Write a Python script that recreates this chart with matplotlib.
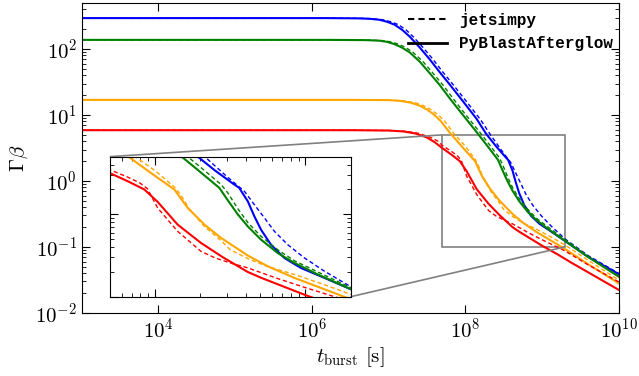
import numpy as np
import matplotlib
matplotlib.use("Agg")
import matplotlib.pyplot as plt
from matplotlib.lines import Line2D
from matplotlib.ticker import LogLocator, NullLocator, NullFormatter
from mpl_toolkits.axes_grid1.inset_locator import mark_inset

plt.rcParams['font.family'] = 'serif'
plt.rcParams['font.serif'] = ['cmr10']
plt.rcParams['mathtext.fontset'] = 'cm'
plt.rcParams['axes.formatter.use_mathtext'] = True
plt.rcParams['axes.unicode_minus'] = False

# values, stored as log10(t) and log10(Gamma*beta)
# PyBlastAfterglow (solid) / jetsimpy (dashed)
lt_blue_pba = [3.0, 6.2, 6.6, 6.75, 6.88, 6.98, 7.08, 7.18, 7.276, 7.407, 7.537, 7.668, 7.8, 7.97,
               8.15, 8.27, 8.40, 8.52, 8.56, 8.617, 8.661, 8.705, 8.771, 8.86, 8.971, 9.104,
               9.303, 9.6, 10.0]
lg_blue_pba = [2.47, 2.47, 2.466, 2.46, 2.445, 2.415, 2.37, 2.29, 2.19, 2.025, 1.845, 1.65, 1.46, 1.21,
               0.94, 0.72, 0.53, 0.37, 0.32, 0.157, -0.026, -0.187, -0.369, -0.53, -0.652, -0.754,
               -0.91, -1.15, -1.41]
lt_blue_jet = [3.0, 6.2, 6.65, 6.8, 6.93, 7.03, 7.13, 7.23, 7.32, 7.45, 7.58, 7.71, 7.85, 8.02,
               8.2, 8.33, 8.484, 8.595, 8.661, 8.728, 8.794, 8.883, 8.994, 9.126, 9.303, 9.6, 10.0]
lg_blue_jet = [2.47, 2.47, 2.466, 2.46, 2.445, 2.415, 2.37, 2.29, 2.19, 2.025, 1.845, 1.65, 1.45, 1.2,
               0.93, 0.70, 0.448, 0.278, 0.116, -0.045, -0.207, -0.37, -0.53, -0.69, -0.88, -1.13, -1.40]

lt_green_pba = [3.0, 6.2, 6.7, 6.88, 6.98, 7.08, 7.18, 7.276, 7.407, 7.537, 7.668, 7.798, 7.971, 8.15,
                8.29, 8.428, 8.484, 8.55, 8.617, 8.705, 8.816, 8.927, 9.082, 9.303, 9.6, 10.0]
lg_green_pba = [2.14, 2.14, 2.136, 2.128, 2.11, 2.075, 2.02, 1.95, 1.81, 1.635, 1.455, 1.253, 1.0, 0.74,
                0.53, 0.32, 0.17, 0.0, -0.147, -0.308, -0.47, -0.59, -0.73, -0.91, -1.15, -1.45]
lt_green_jet = [3.0, 6.2, 6.75, 6.93, 7.03, 7.13, 7.23, 7.32, 7.45, 7.58, 7.71, 7.84, 8.01, 8.19,
                8.33, 8.44, 8.484, 8.55, 8.617, 8.705, 8.816, 8.927, 9.082, 9.303, 9.6, 10.0]
lg_green_jet = [2.14, 2.14, 2.136, 2.128, 2.11, 2.075, 2.02, 1.95, 1.81, 1.635, 1.455, 1.253, 1.0, 0.74,
                0.53, 0.36, 0.26, 0.07, -0.1, -0.268, -0.43, -0.564, -0.70, -0.89, -1.14, -1.44]

lt_orange_pba = [3.0, 6.5, 7.0, 7.15, 7.3, 7.4, 7.5, 7.59, 7.68, 7.808, 7.974, 8.129, 8.218, 8.329,
                 8.44, 8.55, 8.617, 8.75, 8.927, 9.104, 9.3, 9.6, 10.0]
lg_orange_pba = [1.23, 1.23, 1.226, 1.215, 1.185, 1.145, 1.085, 1.01, 0.91, 0.72, 0.50, 0.30, 0.076, -0.126,
                 -0.288, -0.42, -0.50, -0.631, -0.772, -0.894, -1.03, -1.26, -1.55]
lt_orange_jet = [3.0, 6.5, 7.05, 7.2, 7.35, 7.45, 7.55, 7.64, 7.73, 7.852, 8.0, 8.129, 8.17, 8.23,
                 8.33, 8.44, 8.5, 8.62, 8.75, 8.927, 9.104, 9.3, 9.6, 10.0]
lg_orange_jet = [1.23, 1.23, 1.226, 1.215, 1.185, 1.145, 1.085, 1.01, 0.91, 0.72, 0.53, 0.33, 0.24, 0.06,
                 -0.15, -0.32, -0.43, -0.54, -0.635, -0.73, -0.84, -0.97, -1.2, -1.50]

lt_red_pba = [3.0, 6.5, 7.0, 7.2, 7.35, 7.5, 7.6, 7.70, 7.82, 7.93, 8.018, 8.151, 8.306,
              8.45, 8.617, 8.705, 9.0, 9.2, 9.4, 9.7, 10.0]
lg_red_pba = [0.77, 0.77, 0.765, 0.75, 0.72, 0.66, 0.59, 0.50, 0.40, 0.30, 0.15, -0.126, -0.348,
              -0.52, -0.70, -0.77, -0.98, -1.11, -1.25, -1.45, -1.65]
lt_red_jet = [3.0, 6.5, 7.05, 7.25, 7.4, 7.55, 7.65, 7.70, 7.82, 7.90, 7.95, 8.018, 8.151,
              8.306, 8.4, 8.5, 8.617, 8.816, 9.0, 9.3, 9.6, 10.0]
lg_red_jet = [0.77, 0.77, 0.765, 0.75, 0.72, 0.66, 0.60, 0.54, 0.45, 0.38, 0.31, 0.076, -0.207,
              -0.45, -0.53, -0.59, -0.65, -0.78, -0.89, -1.06, -1.27, -1.53]

colors = ['blue', 'green', 'orange', 'red']
pba = [(lt_blue_pba, lg_blue_pba), (lt_green_pba, lg_green_pba),
       (lt_orange_pba, lg_orange_pba), (lt_red_pba, lg_red_pba)]
jet = [(lt_blue_jet, lg_blue_jet), (lt_green_jet, lg_green_jet),
       (lt_orange_jet, lg_orange_jet), (lt_red_jet, lg_red_jet)]

fig = plt.figure(figsize=(6.39, 3.76), dpi=100)
ax = fig.add_axes([0.128, 0.168, 0.840, 0.824])
axins = ax.inset_axes([0.052, 0.052, 0.449, 0.452])


def draw(a):
    for c, (lt, lg), (ltj, lgj) in zip(colors, pba, jet):
        a.plot(10 ** np.array(lt), 10 ** np.array(lg), color=c, ls='-', lw=1.5)
        a.plot(10 ** np.array(ltj), 10 ** np.array(lgj), color=c, ls=(0, (3, 2)), lw=1.0)


draw(ax)
draw(axins)

ax.set_xscale('log')
ax.set_yscale('log')
ax.set_xlim(1e3, 1e10)
ax.set_ylim(1e-2, 5e2)
ax.set_xticks([1e4, 1e6, 1e8, 1e10])
ax.xaxis.set_minor_locator(NullLocator())
ax.yaxis.set_major_locator(LogLocator(base=10, numticks=10))
ax.yaxis.set_minor_locator(LogLocator(base=10, subs=np.arange(2, 10), numticks=20))
ax.yaxis.set_minor_formatter(NullFormatter())
ax.tick_params(which='both', direction='in', top=True, right=True, labelsize=15)
ax.tick_params(which='major', length=6)
ax.tick_params(which='minor', length=3)
ax.set_xlabel(r'$t_{\rm burst}$ $[{\rm s}]$', fontsize=15, labelpad=2)
ax.set_ylabel(r'$\Gamma\beta$', fontsize=15, labelpad=4)

axins.set_xscale('log')
axins.set_yscale('log')
axins.set_xlim(5e7, 2e9)
axins.set_ylim(0.1, 5)
axins.xaxis.set_minor_locator(LogLocator(base=10, subs=np.arange(2, 10), numticks=20))
axins.yaxis.set_minor_locator(LogLocator(base=10, subs=np.arange(2, 10), numticks=20))
axins.xaxis.set_major_formatter(NullFormatter())
axins.xaxis.set_minor_formatter(NullFormatter())
axins.yaxis.set_major_formatter(NullFormatter())
axins.yaxis.set_minor_formatter(NullFormatter())
axins.tick_params(which='both', direction='in', top=True, right=True)
axins.tick_params(which='major', length=6)
axins.tick_params(which='minor', length=3)

mark_inset(ax, axins, loc1=2, loc2=4, fc='none', ec='0.5', lw=1.2)

handles = [Line2D([], [], color='k', ls=(0, (3, 2)), lw=1.5),
           Line2D([], [], color='k', ls='-', lw=2)]
ax.legend(handles, ['jetsimpy', 'PyBlastAfterglow'], loc='upper right',
          bbox_to_anchor=(0.96, 0.966), bbox_transform=fig.transFigure,
          frameon=False, borderpad=0, borderaxespad=0, handlelength=2.4,
          handletextpad=0.8, labelspacing=0.53,
          prop={'family': 'Liberation Mono', 'weight': 'bold', 'size': 11.5})

fig.savefig('out.png', dpi=100)
